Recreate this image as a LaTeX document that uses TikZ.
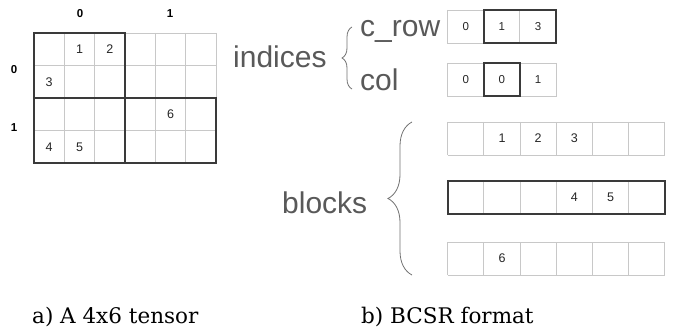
\documentclass[tikz,border=0pt]{standalone}
\usepackage{fontspec}
\setmainfont{DejaVu Serif}
\setsansfont{Liberation Sans}
\usetikzlibrary{decorations.pathreplacing}

\definecolor{gridlight}{HTML}{C8C8C8}
\definecolor{griddark}{HTML}{3A3A3A}
\definecolor{labelgray}{HTML}{595959}

\tikzset{
  light/.style={draw=gridlight, line width=0.9pt},
  bold/.style={draw=griddark, line width=1.6pt},
  cellnum/.style={font=\sffamily\fontsize{12.5}{12.5}\selectfont, text=black!85, inner sep=0},
  idxnum/.style={font=\sffamily\fontsize{11.5}{11.5}\selectfont, text=black!85, inner sep=0},
  axisnum/.style={font=\sffamily\bfseries\fontsize{11.5}{11.5}\selectfont, inner sep=0},
  biglabel/.style={font=\sffamily\fontsize{30}{30}\selectfont, text=labelgray, anchor=base west, inner sep=0},
  caption/.style={font=\fontsize{21.5}{21.5}\selectfont, anchor=base west, inner sep=0},
  curly/.style={decorate, decoration={brace, amplitude=#1}, draw=labelgray!85, line width=0.8pt}
}

\begin{document}
\begin{tikzpicture}[x=1pt,y=-1pt]
  \useasboundingbox (0,0) rectangle (674,331);

  % a) the 4x6 tensor
  \foreach \i in {0,...,6} \draw[light] (34+\i*30.33,33) -- (34+\i*30.33,163);
  \foreach \j in {0,...,4} \draw[light] (34,33+\j*32.5) -- (216,33+\j*32.5);
  \draw[bold] (34,33) rectangle (125,98);
  \draw[bold] (34,98) rectangle (216,163);
  \draw[bold] (125,98) -- (125,163);
  \foreach \c/\r/\v in {1/0/1, 2/0/2, 0/1/3, 4/2/6, 0/3/4, 1/3/5}
    \node[cellnum] (t\r\c) at (34+\c*30.33+15.2, 33+\r*32.5+16.3) {\v};
  % block indices
  \node[axisnum] (blkcol0) at (80,14) {0};
  \node[axisnum] (blkcol1) at (170,14) {1};
  \node[axisnum] (blkrow0) at (14,70) {0};
  \node[axisnum] (blkrow1) at (14,128) {1};

  % b) BCSR format: index arrays
  \node[biglabel] (indices) at (233,68) {indices};
  \draw[curly=10] (352,89) -- (352,27);
  \node[biglabel] (crow) at (360,37) {c\_row};
  \node[biglabel] (col) at (360,91) {col};
  \foreach \k in {0,...,3} {
    \draw[light] (447.7+\k*36.1,10) -- (447.7+\k*36.1,43);
    \draw[light] (447.7+\k*36.1,63) -- (447.7+\k*36.1,96);
  }
  \draw[light] (447.7,10) rectangle (556,43);
  \draw[light] (447.7,63) rectangle (556,96);
  \draw[bold] (483.8,10) rectangle (556,43);
  \draw[bold] (483.8,63) rectangle (519.9,96);
  \foreach \v [count=\k from 0] in {0,1,3}
    \node[idxnum] (crow\k) at (465.8+\k*36.1,26.5) {\v};
  \foreach \v [count=\k from 0] in {0,0,1}
    \node[idxnum] (col\k) at (465.8+\k*36.1,79.5) {\v};

  % b) BCSR format: dense blocks
  \node[biglabel] (blocks) at (282,213) {blocks};
  \draw[curly=24] (412,275) -- (412,122);
  \foreach \top [count=\r from 0] in {122,181,242} {
    \foreach \k in {0,...,6}
      \draw[light] (447.7+\k*36.2,\top) -- (447.7+\k*36.2,\top+33);
    \draw[light] (447.7,\top) -- (665,\top);
    \draw[light] (447.7,\top+33) -- (665,\top+33);
  }
  \draw[bold] (447.7,181) rectangle (665,214);
  \foreach \v [count=\k from 0] in {{},1,2,3,{},{}}
    \node[cellnum] (ba\k) at (465.8+\k*36.2,138.5) {\v};
  \foreach \v [count=\k from 0] in {{},{},{},4,5,{}}
    \node[cellnum] (bb\k) at (465.8+\k*36.2,197.5) {\v};
  \foreach \v [count=\k from 0] in {{},6,{},{},{},{}}
    \node[cellnum] (bc\k) at (465.8+\k*36.2,258.5) {\v};

  % captions
  \node[caption] (capa) at (32,323) {a) A 4x6 tensor};
  \node[caption] (capb) at (361,323) {b) BCSR format};
\end{tikzpicture}
\end{document}
